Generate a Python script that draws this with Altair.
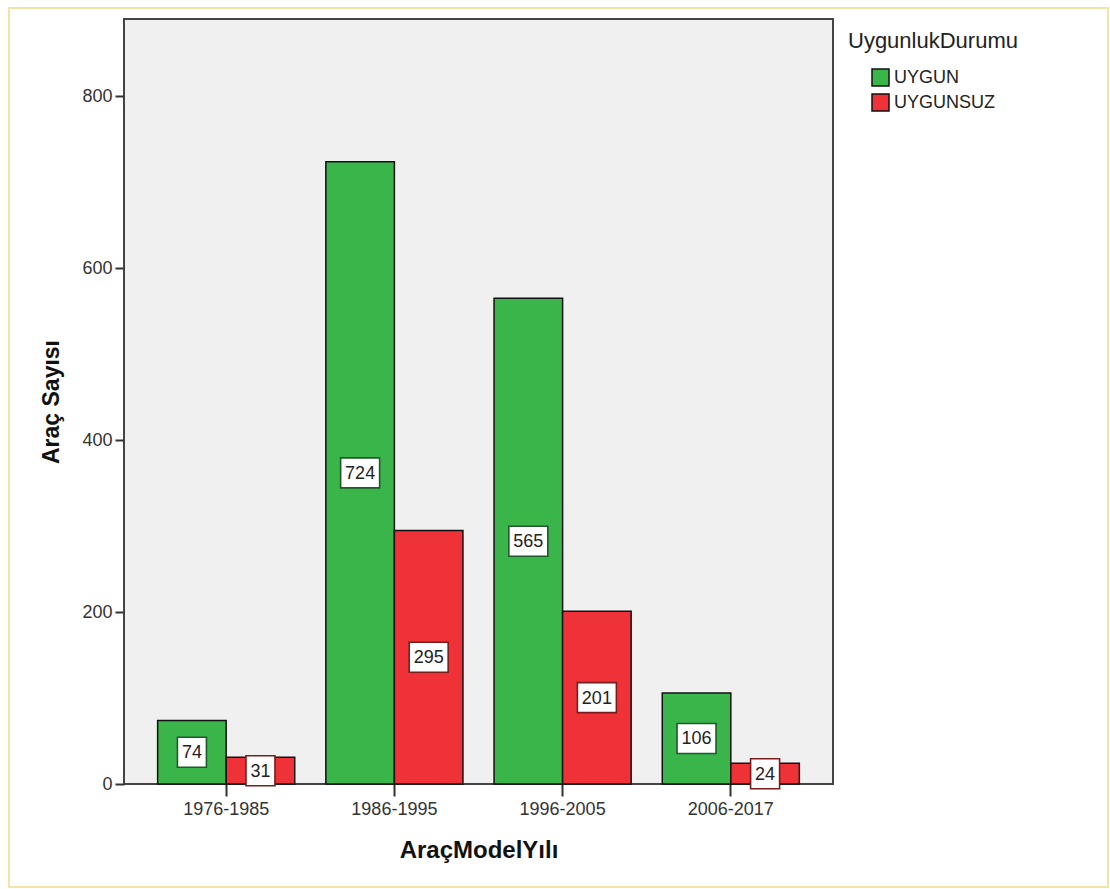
import altair as alt
import pandas as pd

# Vehicle counts by model-year group and roadworthiness status
model_years = ["1976-1985", "1986-1995", "1996-2005", "2006-2017"]
uygun = [74, 724, 565, 106]
uygunsuz = [31, 295, 201, 24]
statuses = ["UYGUN", "UYGUNSUZ"]
y_ticks = [0, 200, 400, 600, 800]

rows = []
for i, m in enumerate(model_years):
    rows.append({"model": m, "durum": "UYGUN", "sayi": uygun[i]})
    rows.append({"model": m, "durum": "UYGUNSUZ", "sayi": uygunsuz[i]})
df = pd.DataFrame(rows)

FONT = "Liberation Sans"
fill_colors = ["#3AB54A", "#EE3238"]
box_strokes = ["#1F5A2A", "#7A1C1C"]

x_enc = alt.X(
    "model:N",
    sort=model_years,
    scale=alt.Scale(paddingInner=0.185, paddingOuter=0.2),
    axis=alt.Axis(
        title="AraçModelYılı",
        labelAngle=0,
        labelFontSize=18,
        labelColor="#333333",
        labelPadding=4,
        tickSize=12,
        tickWidth=2,
        tickColor="#333333",
        domain=False,
        titleFontSize=24,
        titleFontWeight="bold",
        titleColor="#111111",
        titlePadding=20,
    ),
)
xoff = alt.XOffset(
    "durum:N",
    sort=statuses,
    scale=alt.Scale(domain=statuses, paddingInner=0, paddingOuter=0),
)
y_scale = alt.Scale(domain=[0, 890], nice=False)

base = alt.Chart(df)

bars = base.mark_bar(stroke="#111111", strokeWidth=1.5).encode(
    x=x_enc,
    xOffset=xoff,
    y=alt.Y(
        "sayi:Q",
        scale=y_scale,
        axis=alt.Axis(
            title="Araç Sayısı",
            values=y_ticks,
            grid=False,
            domain=False,
            labelFontSize=18,
            labelColor="#333333",
            labelPadding=3,
            tickSize=9,
            tickWidth=2,
            tickColor="#333333",
            titleFontSize=23,
            titleFontWeight="bold",
            titleColor="#111111",
            titlePadding=18,
        ),
    ),
    color=alt.Color(
        "durum:N",
        sort=statuses,
        scale=alt.Scale(domain=statuses, range=fill_colors),
        legend=alt.Legend(
            title="UygunlukDurumu",
            orient="none",
            legendX=724,
            legendY=12,
            symbolOffset=23,
            titleFontSize=22,
            titleFontWeight="normal",
            titleColor="#222222",
            titlePadding=15,
            labelFontSize=18,
            labelColor="#222222",
            labelOffset=4,
            symbolType="square",
            symbolSize=289,
            symbolStrokeColor="#111111",
            symbolStrokeWidth=1.5,
            rowPadding=2,
        ),
    ),
)

labelled = base.transform_calculate(
    half="datum.sayi / 2",
    digits="'d' + length(toString(datum.sayi))",
)

boxes = labelled.mark_point(filled=True, fill="white", size=4, strokeWidth=1.6, opacity=1).encode(
    x=alt.X("model:N", sort=model_years),
    xOffset=xoff,
    y=alt.Y("half:Q", scale=y_scale),
    shape=alt.Shape(
        "digits:N",
        scale=alt.Scale(
            domain=["d2", "d3"],
            range=["M-14.5,-15H14.5V15H-14.5Z", "M-19.5,-15H19.5V15H-19.5Z"],
        ),
        legend=None,
    ),
    stroke=alt.Stroke(
        "durum:N",
        scale=alt.Scale(domain=statuses, range=box_strokes),
        legend=None,
    ),
)

texts = labelled.mark_text(fontSize=18, color="#222222", baseline="middle", align="center", dy=1).encode(
    x=alt.X("model:N", sort=model_years),
    xOffset=xoff,
    y=alt.Y("half:Q", scale=y_scale),
    text=alt.Text("sayi:Q"),
)

# thin outer frame around the whole figure
frame = alt.Chart(alt.Data(values=[{"f": 1}])).mark_rect(
    fillOpacity=0, stroke="#F5E3A6", strokeWidth=2
).encode(
    x=alt.value(-115),
    x2=alt.value(984),
    y=alt.value(-11),
    y2=alt.value(868),
)

chart = (
    alt.layer(bars, boxes, texts, frame)
    .resolve_scale(stroke="independent")
    .properties(
        width=709,
        height=765,
        autosize=alt.AutoSizeParams(type="none"),
        padding={"left": 124, "top": 19, "right": 277, "bottom": 105},
        background="white",
    )
    .configure(font=FONT)
    .configure_view(fill="#F0F0F0", stroke="#444444", strokeWidth=2)
)

chart.save("out.html", embed_options={"renderer": "svg", "actions": False})
